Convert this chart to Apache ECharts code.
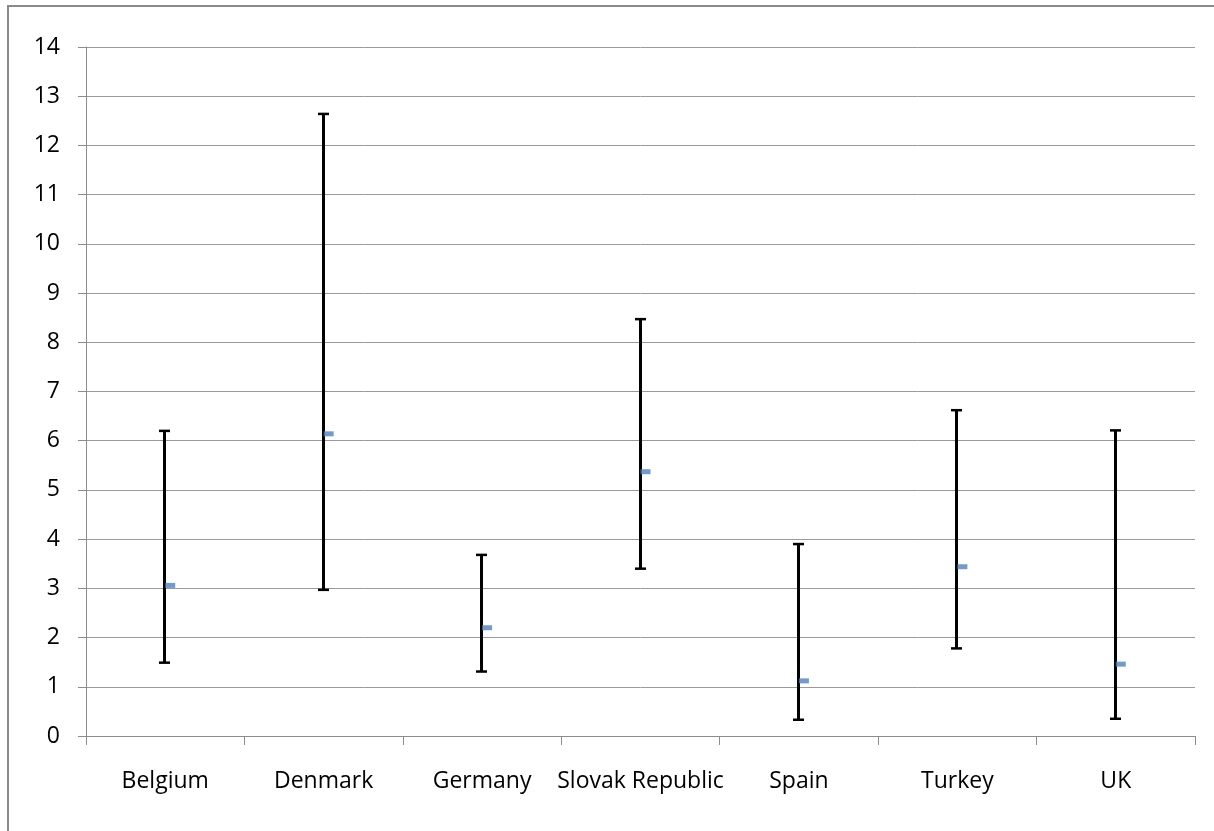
<!DOCTYPE html>
<html>
<head>
<meta charset="utf-8">
<script src="https://cdn.jsdelivr.net/npm/echarts@6/dist/echarts.min.js"></script>
<style>
  html, body { margin: 0; padding: 0; background: #fff; }
  #wrap { position: relative; width: 1214px; height: 831px; }
  #chart { position: absolute; left: 0; top: 0; width: 1214px; height: 831px; }
  #frame { position: absolute; left: 7px; top: 5px; width: 1207px; height: 826px;
           border-left: 2px solid #8a8a8a; border-top: 2px solid #8a8a8a; box-sizing: border-box; pointer-events: none; }
</style>
</head>
<body>
<div id="wrap">
  <div id="chart"></div>
  <div id="frame"></div>
</div>
<script>
const categories = ['Belgium', 'Denmark', 'Germany', 'Slovak Republic', 'Spain', 'Turkey', 'UK'];
const lowValues  = [1.49, 2.97, 1.31, 3.40, 0.33, 1.78, 0.35];
const highValues = [6.20, 12.64, 3.68, 8.47, 3.90, 6.62, 6.21];
const meanValues = [3.06, 6.14, 2.20, 5.37, 1.12, 3.44, 1.46];
const yTicks = [0, 1, 2, 3, 4, 5, 6, 7, 8, 9, 10, 11, 12, 13, 14];

const rangeData = categories.map((c, i) => [i, lowValues[i], highValues[i]]);

const chart = echarts.init(document.getElementById('chart'), null, { renderer: 'canvas' });
const axisGray = '#8c8c8c';
const font = '"Open Sans", "Noto Sans", sans-serif';

chart.setOption({
  animation: false,
  grid: { left: 86, right: 19, top: 47, bottom: 95, containLabel: false },
  xAxis: {
    type: 'category',
    data: categories,
    boundaryGap: true,
    axisLine: { show: true, lineStyle: { color: axisGray, width: 1 } },
    axisTick: { show: true, alignWithLabel: false, length: 9, lineStyle: { color: axisGray, width: 1 } },
    axisLabel: { color: '#000', fontFamily: font, fontSize: 23, margin: 34, interval: 0 },
    splitLine: { show: false }
  },
  yAxis: {
    type: 'value',
    min: yTicks[0],
    max: yTicks[yTicks.length - 1],
    interval: 1,
    axisLine: { show: true, lineStyle: { color: axisGray, width: 1 } },
    axisTick: { show: true, length: 8, inside: false, lineStyle: { color: axisGray, width: 1 } },
    axisLabel: { color: '#000', fontFamily: font, fontSize: 23, margin: 26 },
    splitLine: { show: true, lineStyle: { color: '#9a9a9a', width: 1 } }
  },
  series: [
    {
      type: 'custom',
      data: rangeData,
      z: 3,
      renderItem: function (params, api) {
        const x = api.value(0);
        const lo = api.coord([x, api.value(1)]);
        const hi = api.coord([x, api.value(2)]);
        const cx = Math.round(lo[0]) - 0.5;
        const cap = 5.5;
        const style = { stroke: '#000', lineWidth: 3 };
        return {
          type: 'group',
          children: [
            { type: 'line', shape: { x1: cx, y1: lo[1], x2: cx, y2: hi[1] }, style: style },
            { type: 'line', shape: { x1: cx - cap, y1: lo[1], x2: cx + cap, y2: lo[1] }, style: { stroke: '#000', lineWidth: 2.5 } },
            { type: 'line', shape: { x1: cx - cap, y1: hi[1], x2: cx + cap, y2: hi[1] }, style: { stroke: '#000', lineWidth: 2.5 } }
          ]
        };
      }
    },
    {
      type: 'scatter',
      data: meanValues,
      z: 4,
      symbol: 'rect',
      symbolSize: [10, 5],
      symbolOffset: [5, 0],
      itemStyle: { color: '#4F81BD' }
    }
  ]
});
</script>
</body>
</html>
